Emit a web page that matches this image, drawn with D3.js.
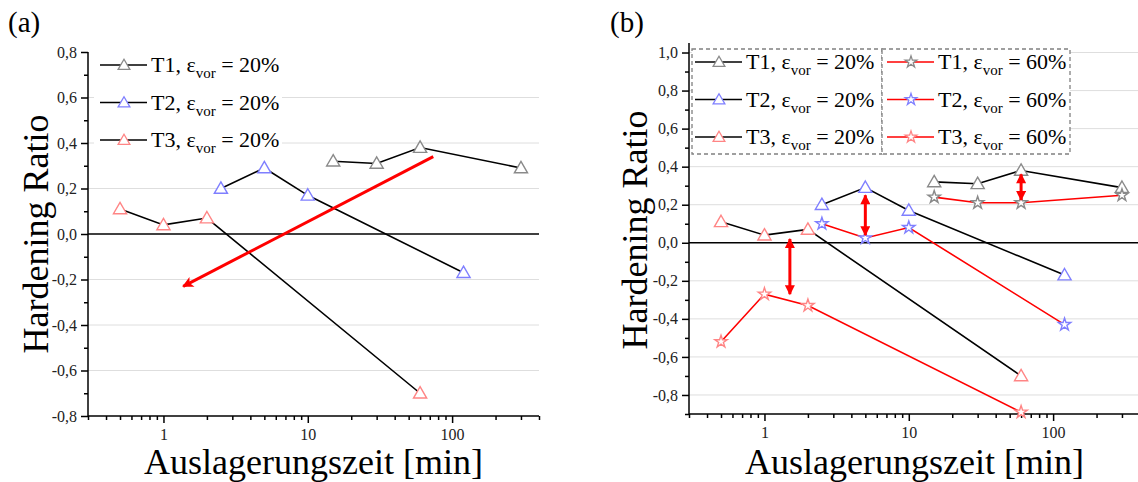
<!DOCTYPE html>
<html>
<head>
<meta charset="utf-8">
<script src="https://cdn.jsdelivr.net/npm/d3@7"></script>
<style>
  body { margin: 0; background: #fff; }
  svg { display: block; }
  .grid line { stroke: #dedede; stroke-width: 1; }
  .axis path, .axis line { stroke: #000; stroke-width: 1.5; }
</style>
</head>
<body>
<svg id="chart" width="1138" height="482"></svg>
<script>
// ageing times [min] for each temper
var timesT1 = [15, 30, 60, 300];
var timesT2 = [2.5, 5, 10, 120];
var timesT3 = [0.5, 1, 2, 60];

// hardening ratio, 20% pre-strain
var hr20T1 = [0.32, 0.31, 0.38, 0.29];
var hr20T2 = [0.2, 0.29, 0.17, -0.17];
var hr20T3 = [0.11, 0.04, 0.07, -0.7];

// hardening ratio, 60% pre-strain
var hr60T1 = [0.24, 0.21, 0.21, 0.25];
var hr60T2 = [0.1, 0.025, 0.08, -0.43];
var hr60T3 = [-0.52, -0.27, -0.33, -0.89];

// tick labels
var xTicks = [1, 10, 100];
var yTicksA = [-0.8, -0.6, -0.4, -0.2, 0, 0.2, 0.4, 0.6, 0.8];
var yTicksB = [-0.8, -0.6, -0.4, -0.2, 0, 0.2, 0.4, 0.6, 0.8, 1.0];

// annotation arrows (data coordinates)
var arrowA = [[74, 0.34], [1.37, -0.23]];
var arrowsB = [[1.5, 0.02, -0.27], [5, 0.25, 0.04], [60, 0.36, 0.225]];

var grey = "#8a8a8a", blue = "#7f7fff", pink = "#ff8585", red = "#ff0000";
var serif = "'Liberation Serif', 'DejaVu Serif', serif";

var svg = d3.select("#chart").attr("font-family", serif);

// arrow heads
var defs = svg.append("defs");
defs.append("marker")
  .attr("id", "headBig")
  .attr("viewBox", "0 0 10 10")
  .attr("refX", 9).attr("refY", 5)
  .attr("markerUnits", "userSpaceOnUse")
  .attr("markerWidth", 15).attr("markerHeight", 11)
  .attr("orient", "auto")
  .append("path").attr("d", "M0,0 L10,5 L0,10 L2.5,5 Z").attr("fill", red);
defs.append("marker")
  .attr("id", "headSmall")
  .attr("viewBox", "0 0 10 10")
  .attr("refX", 9).attr("refY", 5)
  .attr("markerUnits", "userSpaceOnUse")
  .attr("markerWidth", 13).attr("markerHeight", 10)
  .attr("orient", "auto-start-reverse")
  .append("path").attr("d", "M0,0 L10,5 L0,10 Z").attr("fill", red);

function styleAxis(a) {
  a.attr("font-family", serif).attr("font-size", 16);
  a.selectAll("text").attr("fill", "#222");
}

function drawPanel(p) {
  var x = d3.scaleLog().domain([0.3, 400]).range([p.left, p.right]);
  var y = d3.scaleLinear().domain(p.yDomain).range([p.bottom, p.top]);
  var g = svg.append("g");

  // gridlines
  g.append("g").attr("class", "grid")
    .selectAll("line")
    .data(p.yTicks.filter(function(d) { return d !== 0 && d !== p.yDomain[0] && d !== p.yDomain[1]; }))
    .enter().append("line")
    .attr("x1", p.left).attr("x2", p.right)
    .attr("y1", function(d) { return y(d); })
    .attr("y2", function(d) { return y(d); });

  // zero line
  g.append("line")
    .attr("x1", p.left).attr("x2", p.right)
    .attr("y1", y(0)).attr("y2", y(0))
    .attr("stroke", "#000").attr("stroke-width", 1.5);

  // x axis, majors with labels plus minor ticks
  var minors = [];
  [0.1, 1, 10, 100].forEach(function(dec) {
    for (var k = 2; k <= 9; k++) {
      var v = dec * k;
      if (v >= 0.3 && v <= 400) minors.push(v);
    }
  });
  g.append("g").attr("class", "axis")
    .attr("transform", "translate(0," + p.bottom + ")")
    .call(d3.axisBottom(x).tickValues(xTicks).tickFormat(d3.format("d")).tickSize(7).tickPadding(6))
    .call(styleAxis)
    .call(function(a) { a.select(".domain").attr("d", "M" + p.left + ",0H" + p.right); });
  g.append("g").attr("class", "axis")
    .attr("transform", "translate(0," + p.bottom + ")")
    .call(d3.axisBottom(x).tickValues(minors).tickFormat("").tickSize(4))
    .call(function(a) { a.select(".domain").remove(); });

  // y axis
  var yMin = [];
  for (var i = 0; i < p.yTicks.length - 1; i++) yMin.push((p.yTicks[i] + p.yTicks[i + 1]) / 2);
  if (p.yDomain[0] < p.yTicks[0]) yMin.push(p.yTicks[0] - 0.1);
  if (p.yDomain[1] > p.yTicks[p.yTicks.length - 1]) yMin.push(p.yTicks[p.yTicks.length - 1] + 0.1);
  g.append("g").attr("class", "axis")
    .attr("transform", "translate(" + p.left + ",0)")
    .call(d3.axisLeft(y).tickValues(p.yTicks).tickSize(7).tickPadding(4)
      .tickFormat(function(d) { return d3.format(".1f")(d).replace(".", ",").replace("−", "-"); }))
    .call(styleAxis)
    .call(function(a) { a.select(".domain").attr("d", "M0," + p.bottom + "V" + p.top); });
  g.append("g").attr("class", "axis")
    .attr("transform", "translate(" + p.left + ",0)")
    .call(d3.axisLeft(y).tickValues(yMin.filter(function(d) { return d >= p.yDomain[0] && d <= p.yDomain[1]; })).tickFormat("").tickSize(4))
    .call(function(a) { a.select(".domain").remove(); });

  // axis titles
  g.append("text")
    .attr("x", (p.left + p.right) / 2).attr("y", 474)
    .attr("text-anchor", "middle").attr("font-size", 36)
    .text("Auslagerungszeit [min]");
  g.append("text")
    .attr("transform", "translate(" + p.yLabelX + "," + p.yLabelY + ") rotate(-90)")
    .attr("text-anchor", "middle").attr("font-size", 36)
    .text("Hardening Ratio");
  g.append("text")
    .attr("x", p.tagX).attr("y", 32)
    .attr("font-size", 29)
    .text(p.tag);

  var line = d3.line()
    .x(function(d) { return x(d[0]); })
    .y(function(d) { return y(d[1]); });

  var plot = g.append("g");
  p.series.forEach(function(s) {
    plot.append("path")
      .attr("d", line(d3.zip(s.times, s.values)))
      .attr("fill", "none")
      .attr("stroke", s.line)
      .attr("stroke-width", 1.6);
  });
  p.series.forEach(function(s) {
    var sym = d3.symbol().type(s.star ? d3.symbolStar : d3.symbolTriangle).size(s.star ? 48 : 75);
    plot.selectAll(null)
      .data(d3.zip(s.times, s.values))
      .enter().append("path")
      .attr("d", sym)
      .attr("transform", function(d) { return "translate(" + x(d[0]) + "," + (y(d[1]) + (s.star ? 0 : 1)) + ")"; })
      .attr("fill", "#fff")
      .attr("stroke", s.color)
      .attr("stroke-width", 1.4);
  });

  return { x: x, y: y, g: g };
}

function legendRow(g, lx, ly, s, pct) {
  g.append("line")
    .attr("x1", lx).attr("x2", lx + 47)
    .attr("y1", ly).attr("y2", ly)
    .attr("stroke", s.line).attr("stroke-width", 1.6);
  g.append("path")
    .attr("d", d3.symbol().type(s.star ? d3.symbolStar : d3.symbolTriangle).size(s.star ? 42 : 60))
    .attr("transform", "translate(" + (lx + 24) + "," + (ly + (s.star ? 0 : 1)) + ")")
    .attr("fill", "#fff").attr("stroke", s.color).attr("stroke-width", 1.3);
  var t = g.append("text")
    .attr("x", lx + 51).attr("y", ly + 7)
    .attr("font-size", 22);
  t.append("tspan").text(s.name + ", ε");
  t.append("tspan").attr("font-size", 15).attr("dy", 6).text("vor");
  t.append("tspan").attr("dy", -6).text(" = " + pct);
}

// series definitions
var s20 = [
  { name: "T1", times: timesT1, values: hr20T1, color: grey, line: "#000" },
  { name: "T2", times: timesT2, values: hr20T2, color: blue, line: "#000" },
  { name: "T3", times: timesT3, values: hr20T3, color: pink, line: "#000" }
];
var s60 = [
  { name: "T1", times: timesT1, values: hr60T1, color: grey, line: red, star: true },
  { name: "T2", times: timesT2, values: hr60T2, color: blue, line: red, star: true },
  { name: "T3", times: timesT3, values: hr60T3, color: pink, line: red, star: true }
];

// panel (a)
var pa = drawPanel({
  left: 88, right: 539, top: 52, bottom: 416,
  yDomain: [-0.8, 0.8], yTicks: yTicksA,
  series: s20, yLabelX: 48, yLabelY: 234, tag: "(a)", tagX: 8
});
pa.g.append("line")
  .attr("x1", pa.x(arrowA[0][0])).attr("y1", pa.y(arrowA[0][1]))
  .attr("x2", pa.x(arrowA[1][0])).attr("y2", pa.y(arrowA[1][1]))
  .attr("stroke", red).attr("stroke-width", 3)
  .attr("marker-end", "url(#headBig)");
var legA = pa.g.append("g");
legA.append("rect").attr("x", 94).attr("y", 48).attr("width", 188).attr("height", 110).attr("fill", "#fff");
s20.forEach(function(s, i) { legendRow(legA, 100, 65 + i * 37.5, s, "20%"); });

// panel (b)
var pb = drawPanel({
  left: 689, right: 1140, top: 43, bottom: 414,
  yDomain: [-0.9, 1.05], yTicks: yTicksB,
  series: s20.concat(s60), yLabelX: 647, yLabelY: 230, tag: "(b)", tagX: 610
});
arrowsB.forEach(function(a) {
  pb.g.append("line")
    .attr("x1", pb.x(a[0])).attr("x2", pb.x(a[0]))
    .attr("y1", pb.y(a[1])).attr("y2", pb.y(a[2]))
    .attr("stroke", red).attr("stroke-width", 3)
    .attr("marker-start", "url(#headSmall)")
    .attr("marker-end", "url(#headSmall)");
});
var legB = pb.g.append("g");
[[692, 882], [882, 1070]].forEach(function(b) {
  legB.append("rect")
    .attr("x", b[0]).attr("y", 49).attr("width", b[1] - b[0]).attr("height", 105)
    .attr("fill", "#fff").attr("stroke", "#808080").attr("stroke-width", 1.3)
    .attr("stroke-dasharray", "4,3");
});
s20.forEach(function(s, i) { legendRow(legB, 695, 62 + i * 37.5, s, "20%"); });
s60.forEach(function(s, i) { legendRow(legB, 887, 62 + i * 37.5, s, "60%"); });
</script>
</body>
</html>
